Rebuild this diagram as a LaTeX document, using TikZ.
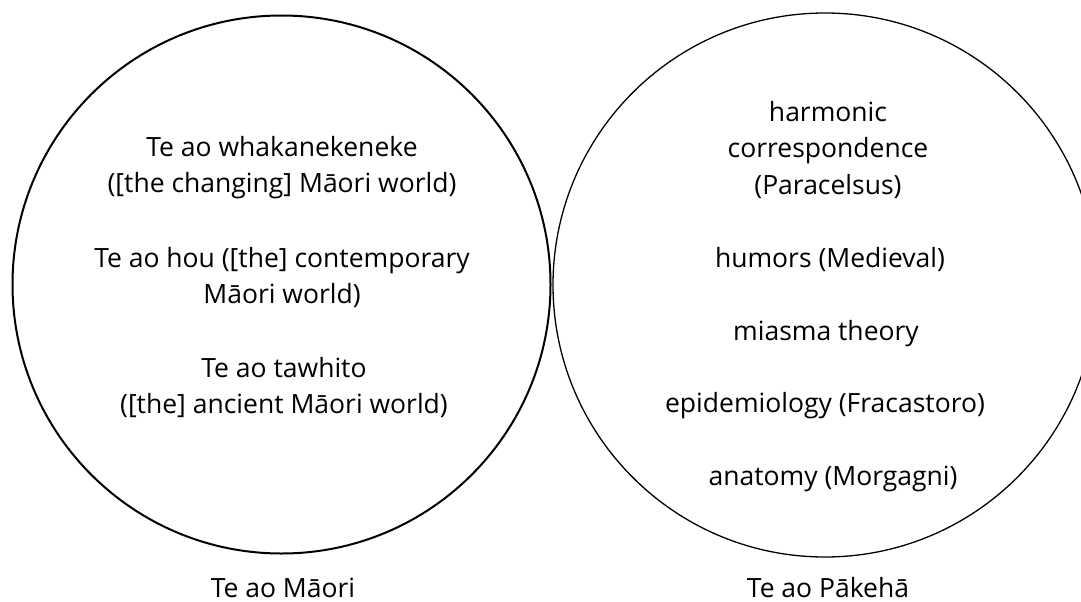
\documentclass[tikz,border=0pt]{standalone}
\usepackage{fontspec}
\setmainfont{Open Sans}
\usetikzlibrary{positioning}
\tikzset{
  world/.style={circle,draw,inner sep=0pt},
  item/.style={align=center,font=\fontsize{26.5}{36.6}\selectfont},
  caption/.style={inner sep=0pt,anchor=base,font=\fontsize{26.5}{36.6}\selectfont}
}

\begin{document}
\begin{tikzpicture}[x=1pt,y=-1pt]
  \useasboundingbox (0,0) rectangle (1081,602);
  \clip (0,0) rectangle (1081,602);
  % the two worlds
  \node[world,line width=2pt,minimum size=538pt] (maori) at (281.5,284.5) {};
  \node[world,line width=1.3pt,minimum size=544pt] (pakeha) at (825,285) {};
  % left circle
  \node[item] (changing) at (282,167.5) {Te ao whakanekeneke\\([the changing] Māori world)};
  \node[item] (hou) at (282,277.5) {Te ao hou ([the] contemporary\\Māori world)};
  \node[item] (tawhito) at (284,387.5) {Te ao tawhito\\ ([the] ancient Māori world)};
  % right circle
  \node[item] (harmonic) at (828,150) {harmonic\\correspondence\\(Paracelsus)};
  \node[item] (humors) at (830,260) {humors (Medieval)};
  \node[item] (miasma) at (826,334) {miasma theory};
  \node[item] (epidem) at (825,406) {epidemiology (Fracastoro)};
  \node[item] (anatomy) at (833,479) {anatomy (Morgagni)};
  % captions
  \node[caption] (lmaori) at (283,597) {Te ao Māori};
  \node[caption] (lpakeha) at (828,597) {Te ao Pākehā};
\end{tikzpicture}
\end{document}
